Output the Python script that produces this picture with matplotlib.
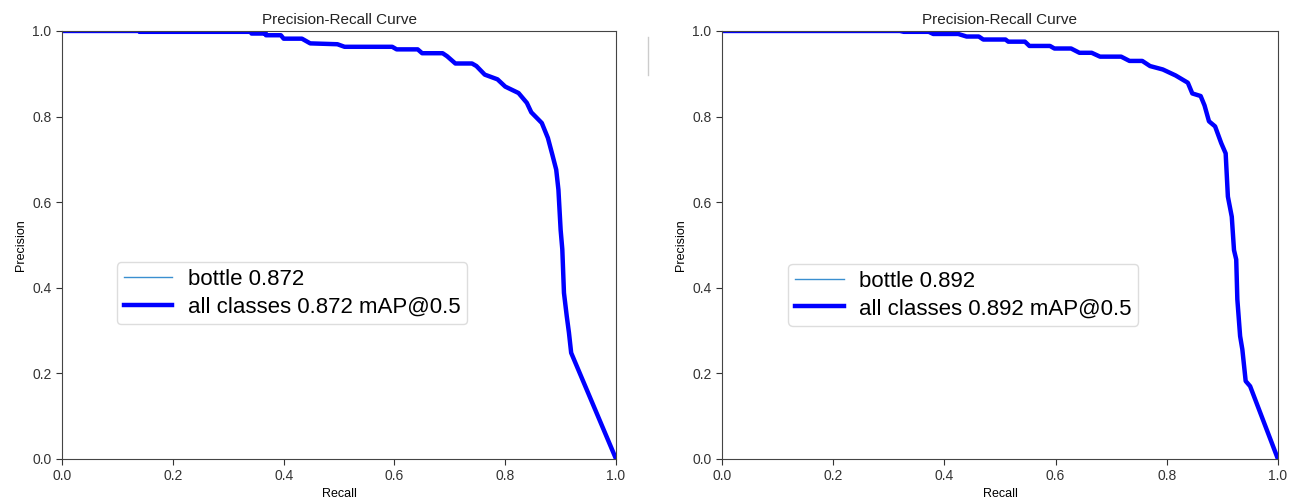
import matplotlib
matplotlib.use("Agg")
import matplotlib.pyplot as plt
from matplotlib.lines import Line2D

plt.rcParams['font.family'] = ['Liberation Sans', 'DejaVu Sans']

# left model: recall / precision
recall_a = [0.0, 0.14, 0.14, 0.342, 0.342, 0.368, 0.368, 0.395, 0.40, 0.433, 0.448,
            0.497, 0.51, 0.596, 0.604, 0.642, 0.65, 0.687, 0.695, 0.71, 0.74, 0.748,
            0.763, 0.786, 0.80, 0.824, 0.839, 0.847, 0.866, 0.877, 0.885, 0.892,
            0.896, 0.90, 0.903, 0.906, 0.911, 0.915, 0.919, 1.0]
precision_a = [1.0, 1.0, 0.998, 0.998, 0.994, 0.994, 0.99, 0.99, 0.982, 0.982, 0.971,
               0.969, 0.963, 0.963, 0.957, 0.957, 0.948, 0.948, 0.941, 0.924, 0.924,
               0.918, 0.898, 0.887, 0.87, 0.855, 0.832, 0.81, 0.785, 0.75, 0.711,
               0.676, 0.629, 0.535, 0.49, 0.388, 0.334, 0.295, 0.248, 0.0]
map_a = 0.872

# right model
recall_b = [0.0, 0.32, 0.327, 0.372, 0.38, 0.425, 0.44, 0.462, 0.47, 0.51, 0.515,
            0.545, 0.553, 0.59, 0.598, 0.628, 0.643, 0.665, 0.68, 0.718, 0.733,
            0.756, 0.77, 0.793, 0.816, 0.838, 0.846, 0.861, 0.868, 0.876, 0.887,
            0.898, 0.906, 0.91, 0.917, 0.921, 0.925, 0.927, 0.932, 0.936, 0.942,
            0.95, 1.0]
precision_b = [1.0, 1.0, 0.998, 0.998, 0.993, 0.993, 0.987, 0.987, 0.98, 0.98, 0.975,
               0.975, 0.965, 0.965, 0.959, 0.959, 0.949, 0.949, 0.94, 0.94, 0.93,
               0.93, 0.918, 0.91, 0.896, 0.879, 0.854, 0.848, 0.826, 0.789, 0.777,
               0.738, 0.714, 0.613, 0.566, 0.488, 0.466, 0.373, 0.287, 0.256, 0.182,
               0.17, 0.0]
map_b = 0.892

fig = plt.figure(figsize=(13.06, 4.97), dpi=100)
fig.patch.set_facecolor("white")
ax1 = fig.add_axes([0.0475, 0.0765, 0.4242, 0.8612])
ax2 = fig.add_axes([0.5528, 0.0765, 0.4257, 0.8612])

panels = [(ax1, recall_a, precision_a, map_a, (0.079, 0.289)),
          (ax2, recall_b, precision_b, map_b, (0.099, 0.285))]

for ax, r, p, m, anchor in panels:
    ax.plot(r, p, linewidth=1, color="#3a8fd0", label="bottle %.3f" % m)
    ax.plot(r, p, linewidth=3.2, color="blue", label="all classes %.3f mAP@0.5" % m)
    ax.set_xlim(0, 1)
    ax.set_ylim(0, 1)
    ax.set_xlabel("Recall", fontsize=9, labelpad=3)
    ax.set_ylabel("Precision", fontsize=9)
    ax.set_title("Precision-Recall Curve", fontsize=11, pad=5, color="#222222")
    ax.tick_params(labelsize=10, colors="#333333", length=4)
    for s in ax.spines.values():
        s.set_color("#444444")
    ax.legend(loc="lower left", bbox_to_anchor=anchor, fontsize=16,
              handlelength=2.2, handletextpad=0.7, framealpha=1,
              edgecolor="#dddddd", borderpad=0.3, labelspacing=0.3)

# faint separator artefact between the two panels
fig.add_artist(Line2D([0.496, 0.496], [0.85, 0.925], color="#cccccc", lw=1))

fig.savefig("out.png", dpi=100)
